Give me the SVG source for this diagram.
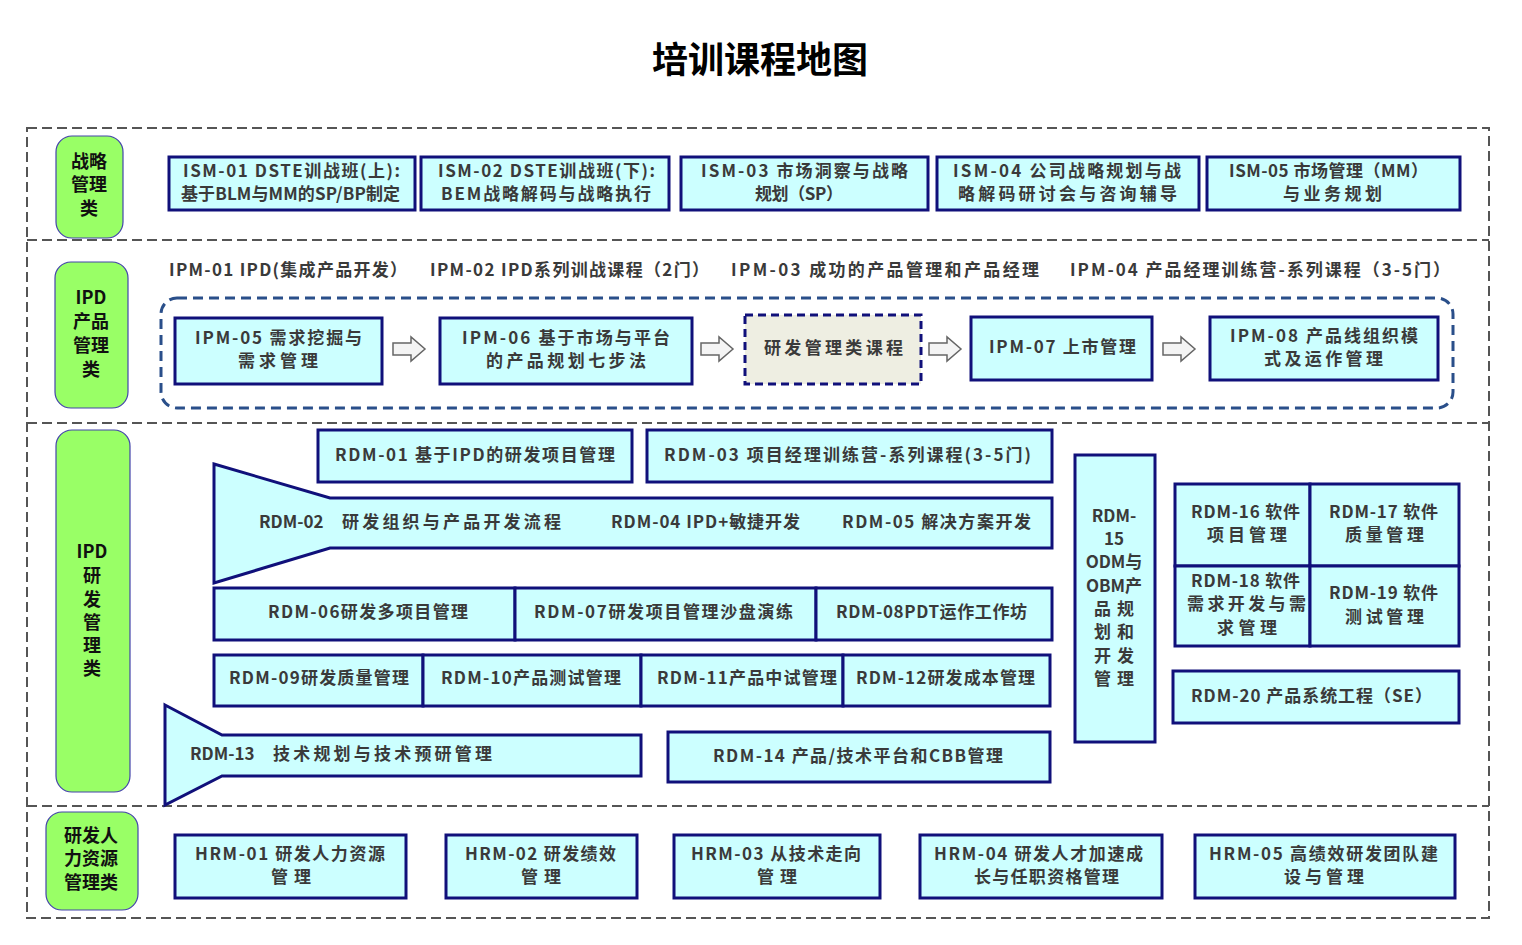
<svg xmlns="http://www.w3.org/2000/svg" width="1522" height="945" viewBox="0 0 1522 945">
<style>
.sep{stroke:#555;stroke-width:2;stroke-dasharray:10 5;fill:none}
.cat{fill:#99FF66;stroke:#4444aa;stroke-width:1.2}
.catt{font-family:"Noto Sans CJK SC",sans-serif;font-weight:bold;font-size:18px;fill:#111;text-anchor:middle}
.box{fill:#CCFFFF;stroke:#10107a;stroke-width:3}
.t{font-family:"Noto Sans CJK SC",sans-serif;font-weight:bold;font-size:17px;fill:#3a3a3a}
.c{text-anchor:middle}
.arr{fill:#f4f4f4;stroke:#666;stroke-width:1.5;stroke-linejoin:miter}
</style>
<defs>
<path id="harr" d="M0,-6 H18 V-12 L32,0 L18,12 V6 H0 Z"/>
</defs>
<rect width="1522" height="945" fill="#fff"/>
<text x="760" y="73" font-family="Noto Sans CJK SC,sans-serif" font-weight="bold" font-size="36" text-anchor="middle" fill="#000">培训课程地图</text>

<g id="frame">
<rect class="sep" x="27" y="128" width="1462" height="790"/>
<line class="sep" x1="27" y1="240" x2="1489" y2="240"/>
<line class="sep" x1="27" y1="423" x2="1489" y2="423"/>
<line class="sep" x1="27" y1="806" x2="1489" y2="806"/>
</g>

<g id="cat-ism"><rect class="cat" x="56" y="136" width="67" height="102" rx="16"/>
<text class="catt" x="89" y="168">战略</text><text class="catt" x="89" y="191">管理</text><text class="catt" x="89" y="215">类</text></g>
<g id="cat-ipm"><rect class="cat" x="55" y="262" width="73" height="146" rx="16"/>
<text class="catt" x="91" y="304">IPD</text><text class="catt" x="91" y="328">产品</text><text class="catt" x="91" y="352">管理</text><text class="catt" x="91" y="376">类</text></g>
<g id="cat-rdm"><rect class="cat" x="56" y="430" width="74" height="362" rx="16"/>
<text class="catt" x="92" y="558">IPD</text><text class="catt" x="92" y="582">研</text><text class="catt" x="92" y="606">发</text><text class="catt" x="92" y="629">管</text><text class="catt" x="92" y="652">理</text><text class="catt" x="92" y="675">类</text></g>
<g id="cat-hrm"><rect class="cat" x="46" y="812" width="92" height="98" rx="16"/>
<text class="catt" x="91" y="842">研发人</text><text class="catt" x="91" y="865">力资源</text><text class="catt" x="91" y="889">管理类</text></g>

<g id="ism-01"><rect class="box" x="169" y="157" width="246" height="53"/>
<text class="t" x="183" y="177" textLength="217" lengthAdjust="spacing">ISM-01 DSTE训战班(上):</text><text class="t" x="181" y="200" textLength="219" lengthAdjust="spacing">基于BLM与MM的SP/BP制定</text></g>
<g id="ism-02"><rect class="box" x="421" y="157" width="248" height="53"/>
<text class="t" x="438" y="177" textLength="217" lengthAdjust="spacing">ISM-02 DSTE训战班(下):</text><text class="t" x="441" y="200" textLength="210" lengthAdjust="spacing">BEM战略解码与战略执行</text></g>
<g id="ism-03"><rect class="box" x="681" y="157" width="247" height="53"/>
<text class="t" x="701" y="177" textLength="207" lengthAdjust="spacing">ISM-03 市场洞察与战略</text><text class="t" x="755" y="200" textLength="88" lengthAdjust="spacing">规划（SP）</text></g>
<g id="ism-04"><rect class="box" x="937" y="157" width="262" height="53"/>
<text class="t" x="953" y="177" textLength="228" lengthAdjust="spacing">ISM-04 公司战略规划与战</text><text class="t" x="958" y="200" textLength="219" lengthAdjust="spacing">略解码研讨会与咨询辅导</text></g>
<g id="ism-05"><rect class="box" x="1207" y="157" width="253" height="53"/>
<text class="t" x="1229" y="177" textLength="199" lengthAdjust="spacing">ISM-05 市场管理（MM）</text><text class="t" x="1283" y="200" textLength="99" lengthAdjust="spacing">与业务规划</text></g>

<g id="ipm-top">
<text class="t" x="169" y="276" textLength="238" lengthAdjust="spacing">IPM-01 IPD(集成产品开发）</text>
<text class="t" x="430" y="276" textLength="279" lengthAdjust="spacing">IPM-02 IPD系列训战课程（2门）</text>
<text class="t" x="731" y="276" textLength="308" lengthAdjust="spacing">IPM-03 成功的产品管理和产品经理</text>
<text class="t" x="1070" y="276" textLength="380" lengthAdjust="spacing">IPM-04 产品经理训练营-系列课程（3-5门）</text>
</g>
<g id="ipm-container"><rect x="161" y="298" width="1292" height="110" rx="16" fill="none" stroke="#2a4f8a" stroke-width="3" stroke-dasharray="10 6"/></g>

<g id="ipm-05"><rect class="box" x="175" y="318" width="207" height="66"/>
<text class="t" x="195" y="344" textLength="167" lengthAdjust="spacing">IPM-05 需求挖掘与</text><text class="t" x="238" y="367" textLength="80" lengthAdjust="spacing">需求管理</text></g>
<g id="ipm-06"><rect class="box" x="440" y="318" width="252" height="66"/>
<text class="t" x="462" y="344" textLength="208" lengthAdjust="spacing">IPM-06 基于市场与平台</text><text class="t" x="486" y="367" textLength="160" lengthAdjust="spacing">的产品规划七步法</text></g>
<g id="rd-course"><rect x="745" y="315" width="176" height="69" fill="#EEEEE2" stroke="#10107a" stroke-width="3" stroke-dasharray="8 5"/>
<text class="t" x="764" y="354" textLength="139" lengthAdjust="spacing">研发管理类课程</text></g>
<g id="ipm-07"><rect class="box" x="971" y="317" width="181" height="63"/>
<text class="t" x="989" y="353" textLength="147" lengthAdjust="spacing">IPM-07 上市管理</text></g>
<g id="ipm-08"><rect class="box" x="1210" y="317" width="228" height="63"/>
<text class="t" x="1230" y="342" textLength="188" lengthAdjust="spacing">IPM-08 产品线组织模</text><text class="t" x="1264" y="365" textLength="119" lengthAdjust="spacing">式及运作管理</text></g>

<g id="connectors">
<use href="#harr" class="arr" x="393" y="349"/>
<use href="#harr" class="arr" x="701" y="349"/>
<use href="#harr" class="arr" x="929" y="349"/>
<use href="#harr" class="arr" x="1163" y="349"/>
</g>

<g id="rdm-01"><rect class="box" x="318" y="430" width="314" height="52"/>
<text class="t" x="335" y="461" textLength="280" lengthAdjust="spacing">RDM-01 基于IPD的研发项目管理</text></g>
<g id="rdm-03"><rect class="box" x="647" y="430" width="405" height="52"/>
<text class="t" x="664" y="461" textLength="367" lengthAdjust="spacing">RDM-03 项目经理训练营-系列课程(3-5门)</text></g>
<g id="rdm-02-04-05"><path class="box" d="M214,464 L330,498 H1052 V548 H330 L214,583 Z"/>
<text class="t" y="528"><tspan x="259">RDM-02</tspan><tspan x="342" textLength="219" lengthAdjust="spacing">研发组织与产品开发流程</tspan></text>
<text class="t" x="611" y="528" textLength="189" lengthAdjust="spacing">RDM-04 IPD+敏捷开发</text>
<text class="t" x="842" y="528" textLength="189" lengthAdjust="spacing">RDM-05 解决方案开发</text></g>
<g id="rdm-06"><rect class="box" x="214" y="588" width="301" height="52"/><text class="t" x="268" y="618" textLength="200" lengthAdjust="spacing">RDM-06研发多项目管理</text></g>
<g id="rdm-07"><rect class="box" x="515" y="588" width="301" height="52"/><text class="t" x="534" y="618" textLength="259" lengthAdjust="spacing">RDM-07研发项目管理沙盘演练</text></g>
<g id="rdm-08"><rect class="box" x="816" y="588" width="236" height="52"/><text class="t" x="836" y="618" textLength="191" lengthAdjust="spacing">RDM-08PDT运作工作坊</text></g>
<g id="rdm-09"><rect class="box" x="214" y="655" width="209" height="51"/><text class="t" x="229" y="684" textLength="180" lengthAdjust="spacing">RDM-09研发质量管理</text></g>
<g id="rdm-10"><rect class="box" x="423" y="655" width="218" height="51"/><text class="t" x="441" y="684" textLength="180" lengthAdjust="spacing">RDM-10产品测试管理</text></g>
<g id="rdm-11"><rect class="box" x="641" y="655" width="202" height="51"/><text class="t" x="657" y="684" textLength="180" lengthAdjust="spacing">RDM-11产品中试管理</text></g>
<g id="rdm-12"><rect class="box" x="843" y="655" width="207" height="51"/><text class="t" x="856" y="684" textLength="179" lengthAdjust="spacing">RDM-12研发成本管理</text></g>
<g id="rdm-13"><path class="box" d="M165,705 L222,735 H641 V776 H222 L165,805 Z"/>
<text class="t" y="760"><tspan x="190">RDM-13</tspan><tspan x="273" textLength="219" lengthAdjust="spacing">技术规划与技术预研管理</tspan></text></g>
<g id="rdm-14"><rect class="box" x="668" y="732" width="382" height="50"/><text class="t" x="713" y="762" textLength="290" lengthAdjust="spacing">RDM-14 产品/技术平台和CBB管理</text></g>
<g id="rdm-15"><rect class="box" x="1075" y="455" width="80" height="287"/>
<text class="t c" x="1114" y="522">RDM-</text><text class="t c" x="1114" y="545">15</text><text class="t c" x="1114" y="568">ODM与</text><text class="t c" x="1114" y="592">OBM产</text><text class="t" x="1094" y="615" textLength="40" lengthAdjust="spacing">品规</text><text class="t" x="1094" y="638" textLength="40" lengthAdjust="spacing">划和</text><text class="t" x="1094" y="662" textLength="40" lengthAdjust="spacing">开发</text><text class="t" x="1094" y="685" textLength="40" lengthAdjust="spacing">管理</text></g>
<g id="rdm-16"><rect class="box" x="1175" y="484" width="135" height="82"/>
<text class="t" x="1191" y="518" textLength="109" lengthAdjust="spacing">RDM-16 软件</text><text class="t" x="1207" y="541" textLength="80" lengthAdjust="spacing">项目管理</text></g>
<g id="rdm-17"><rect class="box" x="1310" y="484" width="149" height="82"/>
<text class="t" x="1329" y="518" textLength="109" lengthAdjust="spacing">RDM-17 软件</text><text class="t" x="1345" y="541" textLength="79" lengthAdjust="spacing">质量管理</text></g>
<g id="rdm-18"><rect class="box" x="1175" y="566" width="135" height="80"/>
<text class="t" x="1191" y="587" textLength="109" lengthAdjust="spacing">RDM-18 软件</text><text class="t" x="1187" y="610" textLength="119" lengthAdjust="spacing">需求开发与需</text><text class="t" x="1217" y="634" textLength="60" lengthAdjust="spacing">求管理</text></g>
<g id="rdm-19"><rect class="box" x="1310" y="566" width="149" height="80"/>
<text class="t" x="1329" y="599" textLength="109" lengthAdjust="spacing">RDM-19 软件</text><text class="t" x="1345" y="623" textLength="79" lengthAdjust="spacing">测试管理</text></g>
<g id="rdm-20"><rect class="box" x="1173" y="671" width="286" height="52"/>
<text class="t" x="1191" y="702" textLength="241" lengthAdjust="spacing">RDM-20 产品系统工程（SE）</text></g>

<g id="hrm-01"><rect class="box" x="175" y="835" width="231" height="63"/>
<text class="t" x="195" y="860" textLength="190" lengthAdjust="spacing">HRM-01 研发人力资源</text><text class="t" x="271" y="883" textLength="40" lengthAdjust="spacing">管理</text></g>
<g id="hrm-02"><rect class="box" x="446" y="835" width="191" height="63"/>
<text class="t" x="465" y="860" textLength="151" lengthAdjust="spacing">HRM-02 研发绩效</text><text class="t" x="521" y="883" textLength="40" lengthAdjust="spacing">管理</text></g>
<g id="hrm-03"><rect class="box" x="674" y="835" width="206" height="63"/>
<text class="t" x="691" y="860" textLength="170" lengthAdjust="spacing">HRM-03 从技术走向</text><text class="t" x="757" y="883" textLength="40" lengthAdjust="spacing">管理</text></g>
<g id="hrm-04"><rect class="box" x="920" y="835" width="242" height="63"/>
<text class="t" x="934" y="860" textLength="209" lengthAdjust="spacing">HRM-04 研发人才加速成</text><text class="t" x="974" y="883" textLength="145" lengthAdjust="spacing">长与任职资格管理</text></g>
<g id="hrm-05"><rect class="box" x="1195" y="835" width="260" height="63"/>
<text class="t" x="1209" y="860" textLength="229" lengthAdjust="spacing">HRM-05 高绩效研发团队建</text><text class="t" x="1284" y="883" textLength="80" lengthAdjust="spacing">设与管理</text></g>
</svg>
